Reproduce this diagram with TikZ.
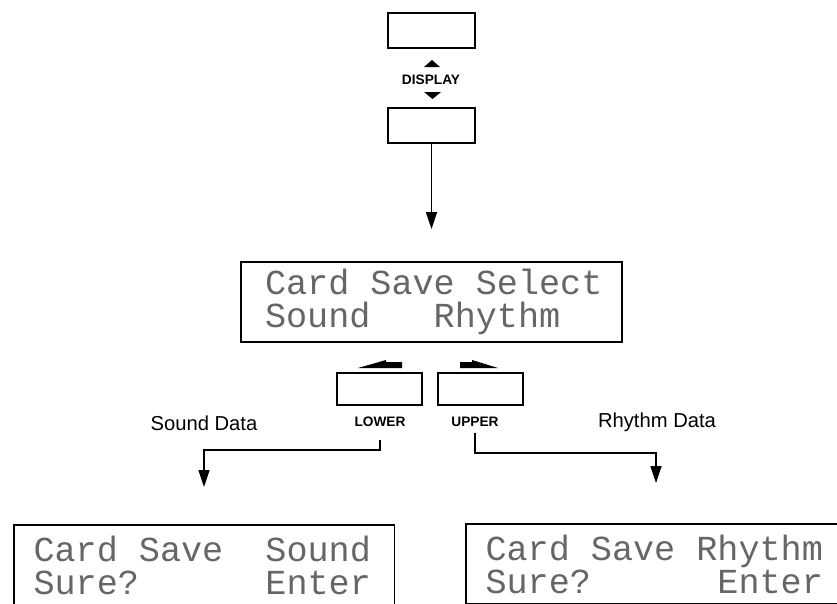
\documentclass[tikz,border=0pt]{standalone}
\usepackage{fontspec}
\setmainfont{Liberation Sans}
\newfontfamily\lcdfont{Liberation Mono}
\newcommand\lcdgap{\hspace*{0.6em}}
\usetikzlibrary{arrows.meta}

\begin{document}
\begin{tikzpicture}[x=0.02cm, y=-0.02cm]
    % --- 样式定义 ---
    \tikzstyle{key}=[draw, line width=1.2pt, minimum width=1.74cm, minimum height=0.7cm, inner sep=0pt]
    \tikzstyle{btn}=[draw, line width=1.2pt, minimum width=1.7cm, minimum height=0.64cm, inner sep=0pt]
    \tikzstyle{lcd}=[draw, line width=1.1pt, minimum width=7.62cm, minimum height=1.6cm, text width=6.9cm, inner xsep=0.36cm, align=left, text=black!60, font=\lcdfont\fontsize{20}{18.8}\selectfont]
    \tikzstyle{tag}=[font=\fontsize{7.8}{9}\selectfont\bfseries, inner sep=1pt]
    \tikzstyle{data}=[font=\fontsize{11.5}{14}\selectfont]
    \tikzstyle{conn}=[-{Triangle[length=0.34cm, width=0.22cm]}, line width=0.9pt]

    \useasboundingbox (0,0) rectangle (837,603);
    \clip (0,0) rectangle (837,603);

    % ====== 显示键 (DISPLAY) ======
    \node[key] (dispA) at (431.5,30.5) {};
    \node[tag] (dispTxt) at (431,80) {DISPLAY};
    \node[key] (dispB) at (431.5,125.5) {};
    % 上下三角
    \fill (424,67) -- (432,60) -- (440,67) -- cycle;
    \fill (424,92) -- (441,92) -- (432.5,99) -- cycle;

    % ====== 选择画面 ======
    \node[lcd] (selLCD) at (431.5,302) {\hspace*{0.12cm}Card\lcdgap Save\lcdgap Select\\
        \hspace*{0.12cm}Sound\lcdgap\lcdgap\lcdgap Rhythm};

    % 箭头指向选择画面
    \draw[conn, shorten >=0.64cm] (dispB) -- (selLCD);

    % ====== LOWER / UPPER 键 ======
    \node[btn] (lowerBtn) at (379.5,389) {};
    \node[btn] (upperBtn) at (480.5,389) {};
    % 左右箭头
    \fill (358,368) -- (386,360) -- (386,362) -- (402,362) -- (402,368) -- cycle;
    \fill (498,368) -- (472,360) -- (472,362) -- (460,362) -- (460,368) -- cycle;

    \node[tag] (lowerTxt) at (380,422) {LOWER};
    \node[tag] (upperTxt) at (475,422) {UPPER};
    \node[data] (soundTxt) at (204,423) {Sound Data};
    \node[data] (rhythmTxt) at (657,422) {Rhythm Data};

    % ====== 确认画面 ======
    \node[lcd] (soundLCD) at (204,565) {\hspace*{0.04cm}Card\lcdgap Save\lcdgap\lcdgap Sound\\
        \hspace*{0.04cm}Sure?\lcdgap\lcdgap\lcdgap\lcdgap\lcdgap\lcdgap Enter};
    \node[lcd] (rhythmLCD) at (656,564) {\hspace*{0.04cm}Card\lcdgap Save\lcdgap Rhythm\\
        \hspace*{0.04cm}Sure?\lcdgap\lcdgap\lcdgap\lcdgap\lcdgap\lcdgap Enter};

    % 分支箭头
    \draw[conn, shorten >=0.74cm] ([yshift=-0.22cm]lowerTxt.south) -- ++(0,10) -| (soundLCD.north);
    \draw[conn, shorten >=0.8cm] ([yshift=-0.08cm]upperTxt.south) -- ++(0,20) -| (rhythmLCD.north);

\end{tikzpicture}
\end{document}
